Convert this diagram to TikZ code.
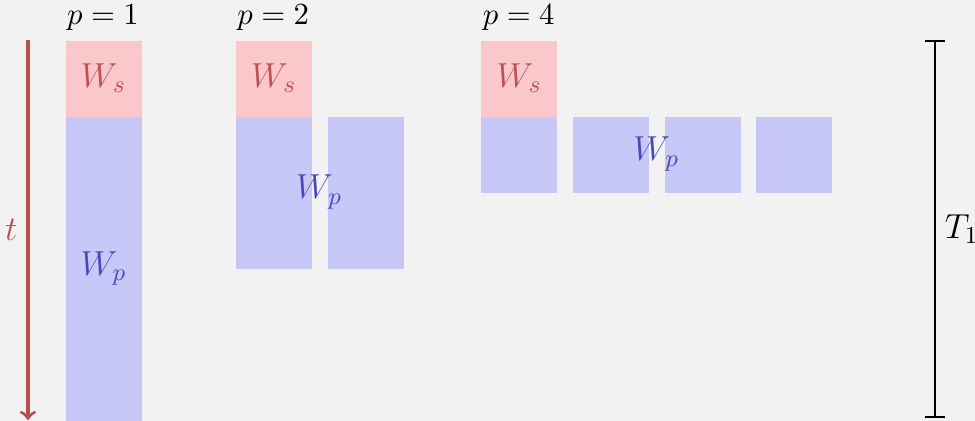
\RequirePackage{fix-cm}
\documentclass[tikz,border=0pt]{standalone}
\definecolor{bgcol}{RGB}{242,242,242}
\definecolor{serfill}{RGB}{250,200,202}
\definecolor{parfill}{RGB}{200,200,248}
\definecolor{sertext}{RGB}{190,80,84}
\definecolor{partext}{RGB}{72,72,190}
\definecolor{timecol}{RGB}{185,78,82}

\begin{document}
\begin{tikzpicture}[serial/.style={fill=serfill, text=sertext, minimum width=1cm, minimum height=1cm, inner sep=0pt, anchor=north west, font=\fontsize{13}{15}\selectfont},
    par/.style={fill=parfill, text=partext, minimum width=1cm, minimum height=#1, inner sep=0pt, anchor=north west, font=\fontsize{13}{15}\selectfont},
    wlabel/.style={text=partext, inner sep=0pt, font=\fontsize{13}{15}\selectfont},
    plabel/.style={anchor=south, font=\fontsize{11.5}{13}\selectfont}]
    \path[fill=bgcol, use as bounding box] (-0.855,0.526) rectangle (11.974,-5.013);
    % p = 1
    \node[plabel] (l1) at (0.5,0) {$p=1$};
    \node[serial] (s1) at (0,0) {$W_s$};
    \node[par=4cm] (p1) at (0,-1) {$W_p$};
    % p = 2
    \node[plabel] (l2) at (2.74,0) {$p=2$};
    \node[serial] (s2) at (2.24,0) {$W_s$};
    \node[par=2cm] (p2a) at (2.24,-1) {};
    \node[par=2cm] (p2b) at (3.45,-1) {};
    \node[wlabel] (w2) at (3.345,-2) {$W_p$};
    % p = 4
    \node[plabel] (l4) at (5.97,0) {$p=4$};
    \node[serial] (s4) at (5.47,0) {$W_s$};
    \node[par=1cm] (p4a) at (5.47,-1) {};
    \node[par=1cm] (p4b) at (6.68,-1) {};
    \node[par=1cm] (p4c) at (7.89,-1) {};
    \node[par=1cm] (p4d) at (9.09,-1) {};
    \node[wlabel] (w4) at (7.78,-1.5) {$W_p$};
    % time axis and T_1
    \coordinate (ttop) at (-0.487,0);
    \coordinate (tbot) at (-0.487,-5);
    \draw[->, very thick, timecol] (ttop) -- (tbot) node[midway, left, text=timecol, font=\fontsize{13}{15}\selectfont] (tl) {$t$};
    \coordinate (Ttop) at (11.447,0);
    \coordinate (Tbot) at (11.447,-4.97);
    \draw[|-|, thick] (Ttop) -- (Tbot) node[midway, right, font=\fontsize{13}{15}\selectfont] (Tl) {$T_1$};
  \end{tikzpicture}
\end{document}
